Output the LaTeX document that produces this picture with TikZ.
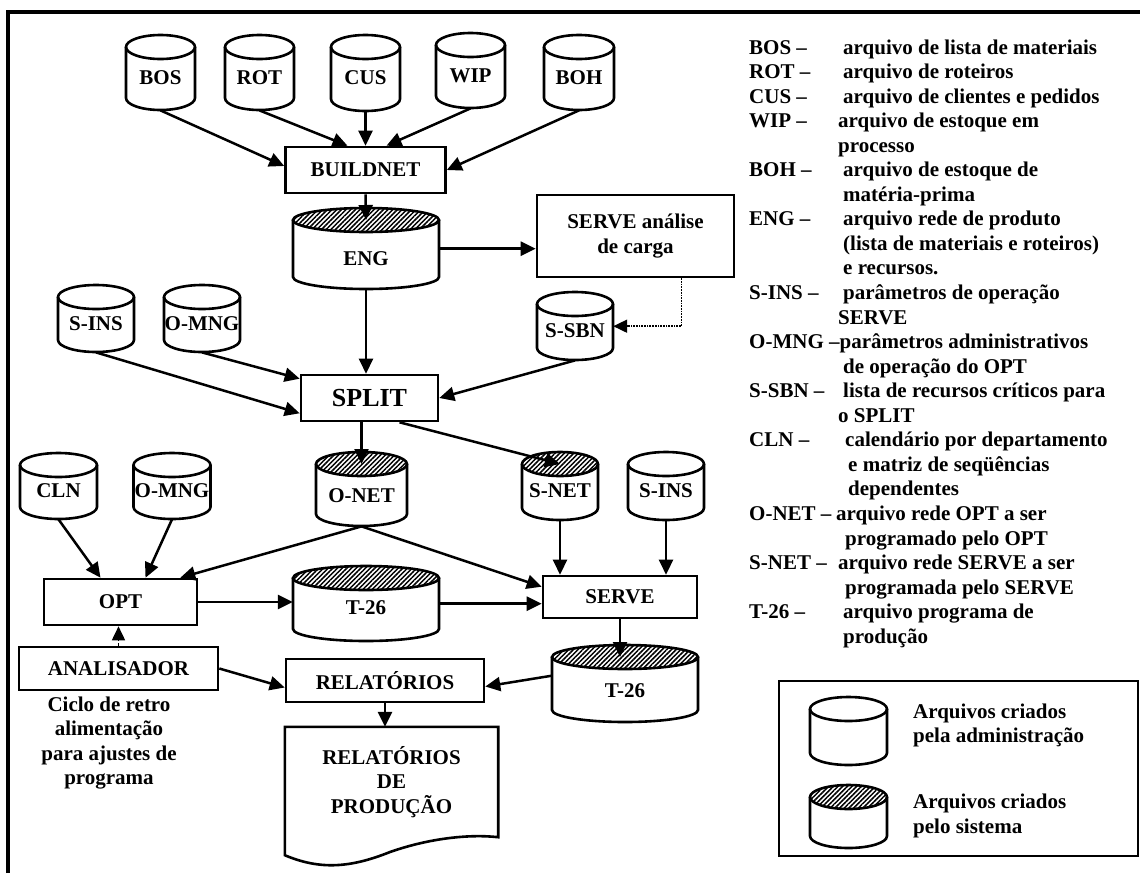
\documentclass[tikz,border=0pt]{standalone}
\usepackage{fontspec}
\setmainfont{Liberation Serif}
\usetikzlibrary{arrows.meta,patterns.meta,calc}

\tikzset{
  base/.style={font=\fontsize{21}{24.5}\selectfont\bfseries},
  lw/.style={line width=2.6pt},
  box/.style={base, draw, lw, inner sep=0pt, align=center},
  cyltext/.style={base, inner sep=0pt, anchor=north, align=center},
  cylline/.style={line width=2.6pt},
  hatch/.style={pattern={Lines[angle=45,distance=3.3pt,line width=1.5pt]}},
  arr/.style={line width=2.5pt, -{Triangle[length=15pt,width=14pt]}},
  dotarr/.style={line width=1.7pt, densely dotted, -{Triangle[length=14pt,width=13pt]}},
  dasharr/.style={line width=1.7pt, dash pattern=on 2.5pt off 2pt, -{Triangle[length=14pt,width=13pt]}},
  leg/.style={base, inner sep=0pt, anchor=base west},
}

\def\cylry{12}
% name, cx, top, bottom, width, label y, text, h=hatched / n=plain
\newcommand{\drawcyl}[8]{%
  \pgfmathsetmacro{\cL}{#2-#5/2}%
  \pgfmathsetmacro{\cR}{#2+#5/2}%
  \pgfmathsetmacro{\cRx}{#5/2}%
  \pgfmathsetmacro{\cTop}{#3+\cylry}%
  \pgfmathsetmacro{\cBot}{#4-\cylry}%
  \pgfmathsetmacro{\cHt}{#6+7-#3}%
  \pgfmathsetmacro{\cDp}{#4-#6-7}%
  \node[cyltext, minimum width=#5pt, text height=\cHt pt, text depth=\cDp pt] (#1) at (#2,#3) {#7};
  \ifx#8h
    \fill[hatch] (#2,\cTop) ellipse [x radius=\cRx, y radius=\cylry];
  \fi
  \draw[cylline] (#2,\cTop) ellipse [x radius=\cRx, y radius=\cylry];
  \draw[cylline] (\cL,\cTop) -- (\cL,\cBot) arc[start angle=180, end angle=0, x radius=\cRx, y radius=\cylry] -- (\cR,\cTop);
}

\begin{document}
\begin{tikzpicture}[x=1pt,y=-1pt]
\useasboundingbox (0,0) rectangle (1140,873);

% outer frame
\draw[line width=3.2pt] (8,873) -- (8,12) -- (1140,12);

% cylinders
\drawcyl{bos}{160.5}{35}{110}{69}{77}{BOS}{n}
\drawcyl{rot}{259.5}{35}{110}{69}{77}{ROT}{n}
\drawcyl{cus}{365.5}{35}{111}{69}{77}{CUS}{n}
\drawcyl{wip}{470.5}{33}{108}{69}{75}{WIP}{n}
\drawcyl{boh}{579}{35}{110}{70}{77}{BOH}{n}
\drawcyl{eng}{366}{208}{289}{146}{258}{ENG}{h}
\drawcyl{sins1}{96}{285}{352}{76}{323}{S-INS}{n}
\drawcyl{omng1}{202}{285}{352}{76}{323}{O-MNG}{n}
\drawcyl{ssbn}{575}{292}{360}{76}{330}{S-SBN}{n}
\drawcyl{cln}{58.5}{453}{519}{77}{490}{CLN}{n}
\drawcyl{omng2}{172}{453}{519}{77}{490}{O-MNG}{n}
\drawcyl{onet}{361.5}{452}{526}{91}{495}{O-NET}{h}
\drawcyl{snet}{560}{452}{520}{76}{490}{S-NET}{h}
\drawcyl{sins2}{666}{452}{520}{76}{490}{S-INS}{n}
\drawcyl{tsa}{366}{566}{641}{146}{607}{T-26}{h}
\drawcyl{tsb}{625}{645}{722}{146}{690}{T-26}{h}

% boxes
\node[box, minimum width=160pt, minimum height=46pt] (buildnet) at (365.5,170) {BUILDNET};
\node[box, minimum width=197pt, minimum height=82pt] (servecarga) at (635.5,236) {SERVE análise\\de carga};
\node[box, minimum width=137pt, minimum height=46pt, font=\fontsize{26}{30}\selectfont\bfseries] (split) at (369.5,398) {SPLIT};
\node[box, minimum width=153pt, minimum height=46pt] (opt) at (120.5,602) {OPT};
\node[box, minimum width=154pt, minimum height=42pt] (serve) at (620,597) {SERVE};
\node[box, minimum width=199pt, minimum height=43pt] (anal) at (118.5,668.5) {ANALISADOR};
\node[box, minimum width=198pt, minimum height=43pt] (rel) at (385,680.5) {RELATÓRIOS};
\node[base, align=center, inner sep=0pt, minimum width=213pt, minimum height=110pt] (doc) at (391.5,782) {RELATÓRIOS\\DE\\PRODUÇÃO};
\draw[lw] (doc.south west) -- (doc.north west) -- (doc.north east) -- (doc.south east)
  .. controls (470,834) and (430,838) .. (390,852)
  .. controls (350,868) and (320,870) .. ($(doc.south west)+(0,18)$) -- cycle;
\node[base, align=center, inner sep=0pt] (caption) at (109,743) {Ciclo de retro\\alimentação\\para ajustes de\\programa};

% connectors
\draw[arr] (bos.south) -- ($(buildnet.west)+(0,-4)$);
\draw[arr] (rot.south) -- ($(buildnet.north)+(-18,0)$);
\draw[arr] (cus.south) -- (cus.south |- buildnet.north);
\draw[arr] (wip.south) -- ($(buildnet.north)+(21,0)$);
\draw[arr] (boh.south) -- (buildnet.east);
\draw[arr] (buildnet.south) -- ($(eng.north)+(0,12)$);
\draw[arr] (eng.east) -- (eng.east -| servecarga.west);
\draw[dotarr] ($(servecarga.south)+(46,0)$) |- (ssbn.east);
\draw[arr] (eng.south) -- (eng.south |- split.north);
\draw[arr] (sins1.south) -- ($(split.south west)+(0,-9)$);
\draw[arr] (omng1.south) -- ($(split.north west)+(0,5)$);
\draw[arr] (ssbn.south) -- (split.east);
\draw[arr] (onet.north |- split.south) -- ($(onet.north)+(0,12)$);
\draw[arr] ($(split.south)+(30,0)$) -- ($(snet.north)+(0,12)$);
\draw[arr] (cln.south) -- ($(opt.north)+(-20,0)$);
\draw[arr] (omng2.south) -- ($(opt.north)+(25,0)$);
\draw[arr] (onet.south) -- ($(opt.north east)+(-18,0)$);
\draw[arr] (onet.south) -- ($(serve.north west)+(0,12)$);
\draw[arr] (snet.south) -- (snet.south |- serve.north);
\draw[arr] (sins2.south) -- (sins2.south |- serve.north);
\draw[arr] (opt.east) -- (opt.east -| tsa.west);
\draw[arr] (tsa.east) -- (tsa.east -| serve.west);
\draw[arr] (serve.south) -- ($(serve.south |- tsb.north)+(0,12)$);
\draw[arr] ($(tsb.west)+(0,-8)$) -- ($(rel.east)+(0,6)$);
\draw[arr] (anal.east) -- ($(rel.west)+(0,7)$);
\draw[dasharr] (anal.north) -- (anal.north |- opt.south);
\draw[arr] (rel.south) -- (rel.south |- doc.north);

% legend text
\node[leg] (l0a) at (749,54) {BOS –};
\node[leg] (l0b) at (843,54) {arquivo de lista de materiais};
\node[leg] (l1a) at (749,78.55) {ROT –};
\node[leg] (l1b) at (843,78.55) {arquivo de roteiros};
\node[leg] (l2a) at (749,103.1) {CUS –};
\node[leg] (l2b) at (843,103.1) {arquivo de clientes e pedidos};
\node[leg] (l3a) at (749,127.65) {WIP –};
\node[leg] (l3b) at (838,127.65) {arquivo de estoque em};
\node[leg] (l4b) at (838,152.2) {processo};
\node[leg] (l5a) at (749,176.75) {BOH –};
\node[leg] (l5b) at (843,176.75) {arquivo de estoque de};
\node[leg] (l6b) at (843,201.3) {matéria-prima};
\node[leg] (l7a) at (749,225.85) {ENG –};
\node[leg] (l7b) at (843,225.85) {arquivo rede de produto};
\node[leg] (l8b) at (843,250.4) {(lista de materiais e roteiros)};
\node[leg] (l9b) at (843,274.95) {e recursos.};
\node[leg] (l10a) at (749,299.5) {S-INS –};
\node[leg] (l10b) at (843,299.5) {parâmetros de operação};
\node[leg] (l11b) at (838,324.05) {SERVE};
\node[leg] (l12a) at (749,348.6) {O-MNG –parâmetros administrativos};
\node[leg] (l13b) at (843,373.15) {de operação do OPT};
\node[leg] (l14a) at (749,397.7) {S-SBN –};
\node[leg] (l14b) at (843,397.7) {lista de recursos críticos para};
\node[leg] (l15b) at (838,422.25) {o SPLIT};
\node[leg] (l16a) at (749,446.8) {CLN –};
\node[leg] (l16b) at (845,446.8) {calendário por departamento};
\node[leg] (l17b) at (848,471.35) {e matriz de seqüências};
\node[leg] (l18b) at (848,495.9) {dependentes};
\node[leg] (l19a) at (749,520.45) {O-NET –};
\node[leg] (l19b) at (836,520.45) {arquivo rede OPT a ser};
\node[leg] (l20b) at (845,545) {programado pelo OPT};
\node[leg] (l21a) at (749,569.55) {S-NET –};
\node[leg] (l21b) at (838,569.55) {arquivo rede SERVE a ser};
\node[leg] (l22b) at (845,594.1) {programada pelo SERVE};
\node[leg] (l23a) at (749,618.65) {T-26 –};
\node[leg] (l23b) at (843,618.65) {arquivo programa de};
\node[leg] (l24b) at (843,643.2) {produção};

% key box
\node[draw, line width=2.8pt, minimum width=359pt, minimum height=175pt, inner sep=0pt] (keybox) at (958.5,768.5) {};
\drawcyl{keyadm}{848.5}{697}{765}{77}{731}{}{n}
\drawcyl{keysys}{848.5}{785}{848}{77}{816}{}{h}
\node[base, align=left, anchor=west, inner sep=0pt] (keyadmtext) at (913,725.5) {Arquivos criados\\pela administração};
\node[base, align=left, anchor=west, inner sep=0pt] (keysystext) at (913,816) {Arquivos criados\\pelo sistema};
\end{tikzpicture}
\end{document}
